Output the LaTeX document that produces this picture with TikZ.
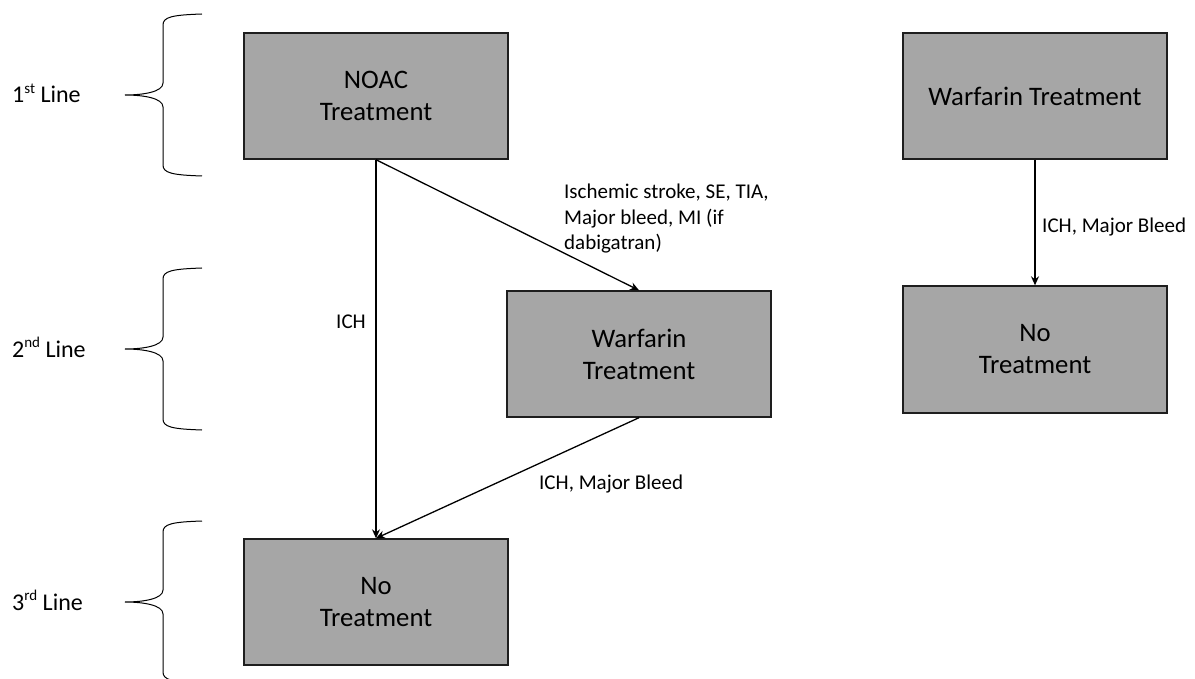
\documentclass[tikz,border=0pt]{standalone}
\usepackage{fontspec}
\setmainfont{Carlito}
\usetikzlibrary{arrows.meta}

\definecolor{boxgray}{HTML}{A6A6A6}
\definecolor{boxedge}{HTML}{1E1E1E}

% ordinal suffix raised like a superscript
\newcommand{\ordsup}[1]{\raisebox{0.38em}{\fontsize{15}{15}\selectfont #1}}

\tikzset{
  treatbox/.style={draw=boxedge, line width=1.4pt, fill=boxgray,
    minimum width=264, minimum height=126, inner sep=0pt,
    align=center, font=\fontsize{26.7}{32}\selectfont},
  flow/.style={line width=1.3pt, -{Stealth[length=9pt,width=8pt,inset=3pt]}},
  edgelabel/.style={inner sep=0pt, font=\fontsize{21}{25.6}\selectfont},
  linelabel/.style={inner sep=0pt, font=\fontsize{24}{29}\selectfont},
  brace line/.style={line width=1pt, black},
  linebrace/.pic={
    \draw[brace line] (77,-81) .. controls (47,-80) and (38,-78) .. (38,-70)
      -- (38,-12) .. controls (38,-3) and (18,0) .. (0,0)
      .. controls (18,0) and (38,3) .. (38,12)
      -- (38,70) .. controls (38,78) and (47,80) .. (77,81);
  }
}

\begin{document}
\begin{tikzpicture}[x=1pt, y=-1pt]
  \useasboundingbox (0,0) rectangle (1195,679);

  % treatment lines on the left
  \pic at (125,95) {linebrace};
  \pic at (125,349) {linebrace};
  \pic at (125,602) {linebrace};
  \node[linelabel, anchor=base west] (l1) at (12,103) {1\ordsup{st} Line};
  \node[linelabel, anchor=base west] (l2) at (12,357) {2\ordsup{nd} Line};
  \node[linelabel, anchor=base west] (l3) at (12,610) {3\ordsup{rd} Line};

  % NOAC pathway
  \node[treatbox] (noac) at (376,96) {NOAC\\Treatment};
  \node[treatbox] (warf) at (639,354) {Warfarin\\Treatment};
  \node[treatbox] (none) at (376,602) {No\\Treatment};

  \draw[flow] (noac.south) -- (none.north);
  \draw[flow] (noac.south) -- (warf.north);
  \draw[flow] (warf.south) -- (none.north);

  \node[edgelabel, anchor=base east] (lich) at (366,329) {ICH};
  \node[edgelabel, anchor=north west, align=left] (lswitch) at (564,184)
    {Ischemic stroke, SE, TIA,\\Major bleed, MI (if\\dabigatran)};
  \node[edgelabel, anchor=base west] (lbleed) at (539,489) {ICH, Major Bleed};

  % warfarin pathway
  \node[treatbox] (warf2) at (1035,96) {Warfarin Treatment};
  \node[treatbox, minimum height=127] (none2) at (1035,349.5) {No\\Treatment};
  \draw[flow] (warf2.south) -- (none2.north);
  \node[edgelabel, anchor=base west] (lbleed2) at (1042,233) {ICH, Major Bleed};
\end{tikzpicture}
\end{document}
